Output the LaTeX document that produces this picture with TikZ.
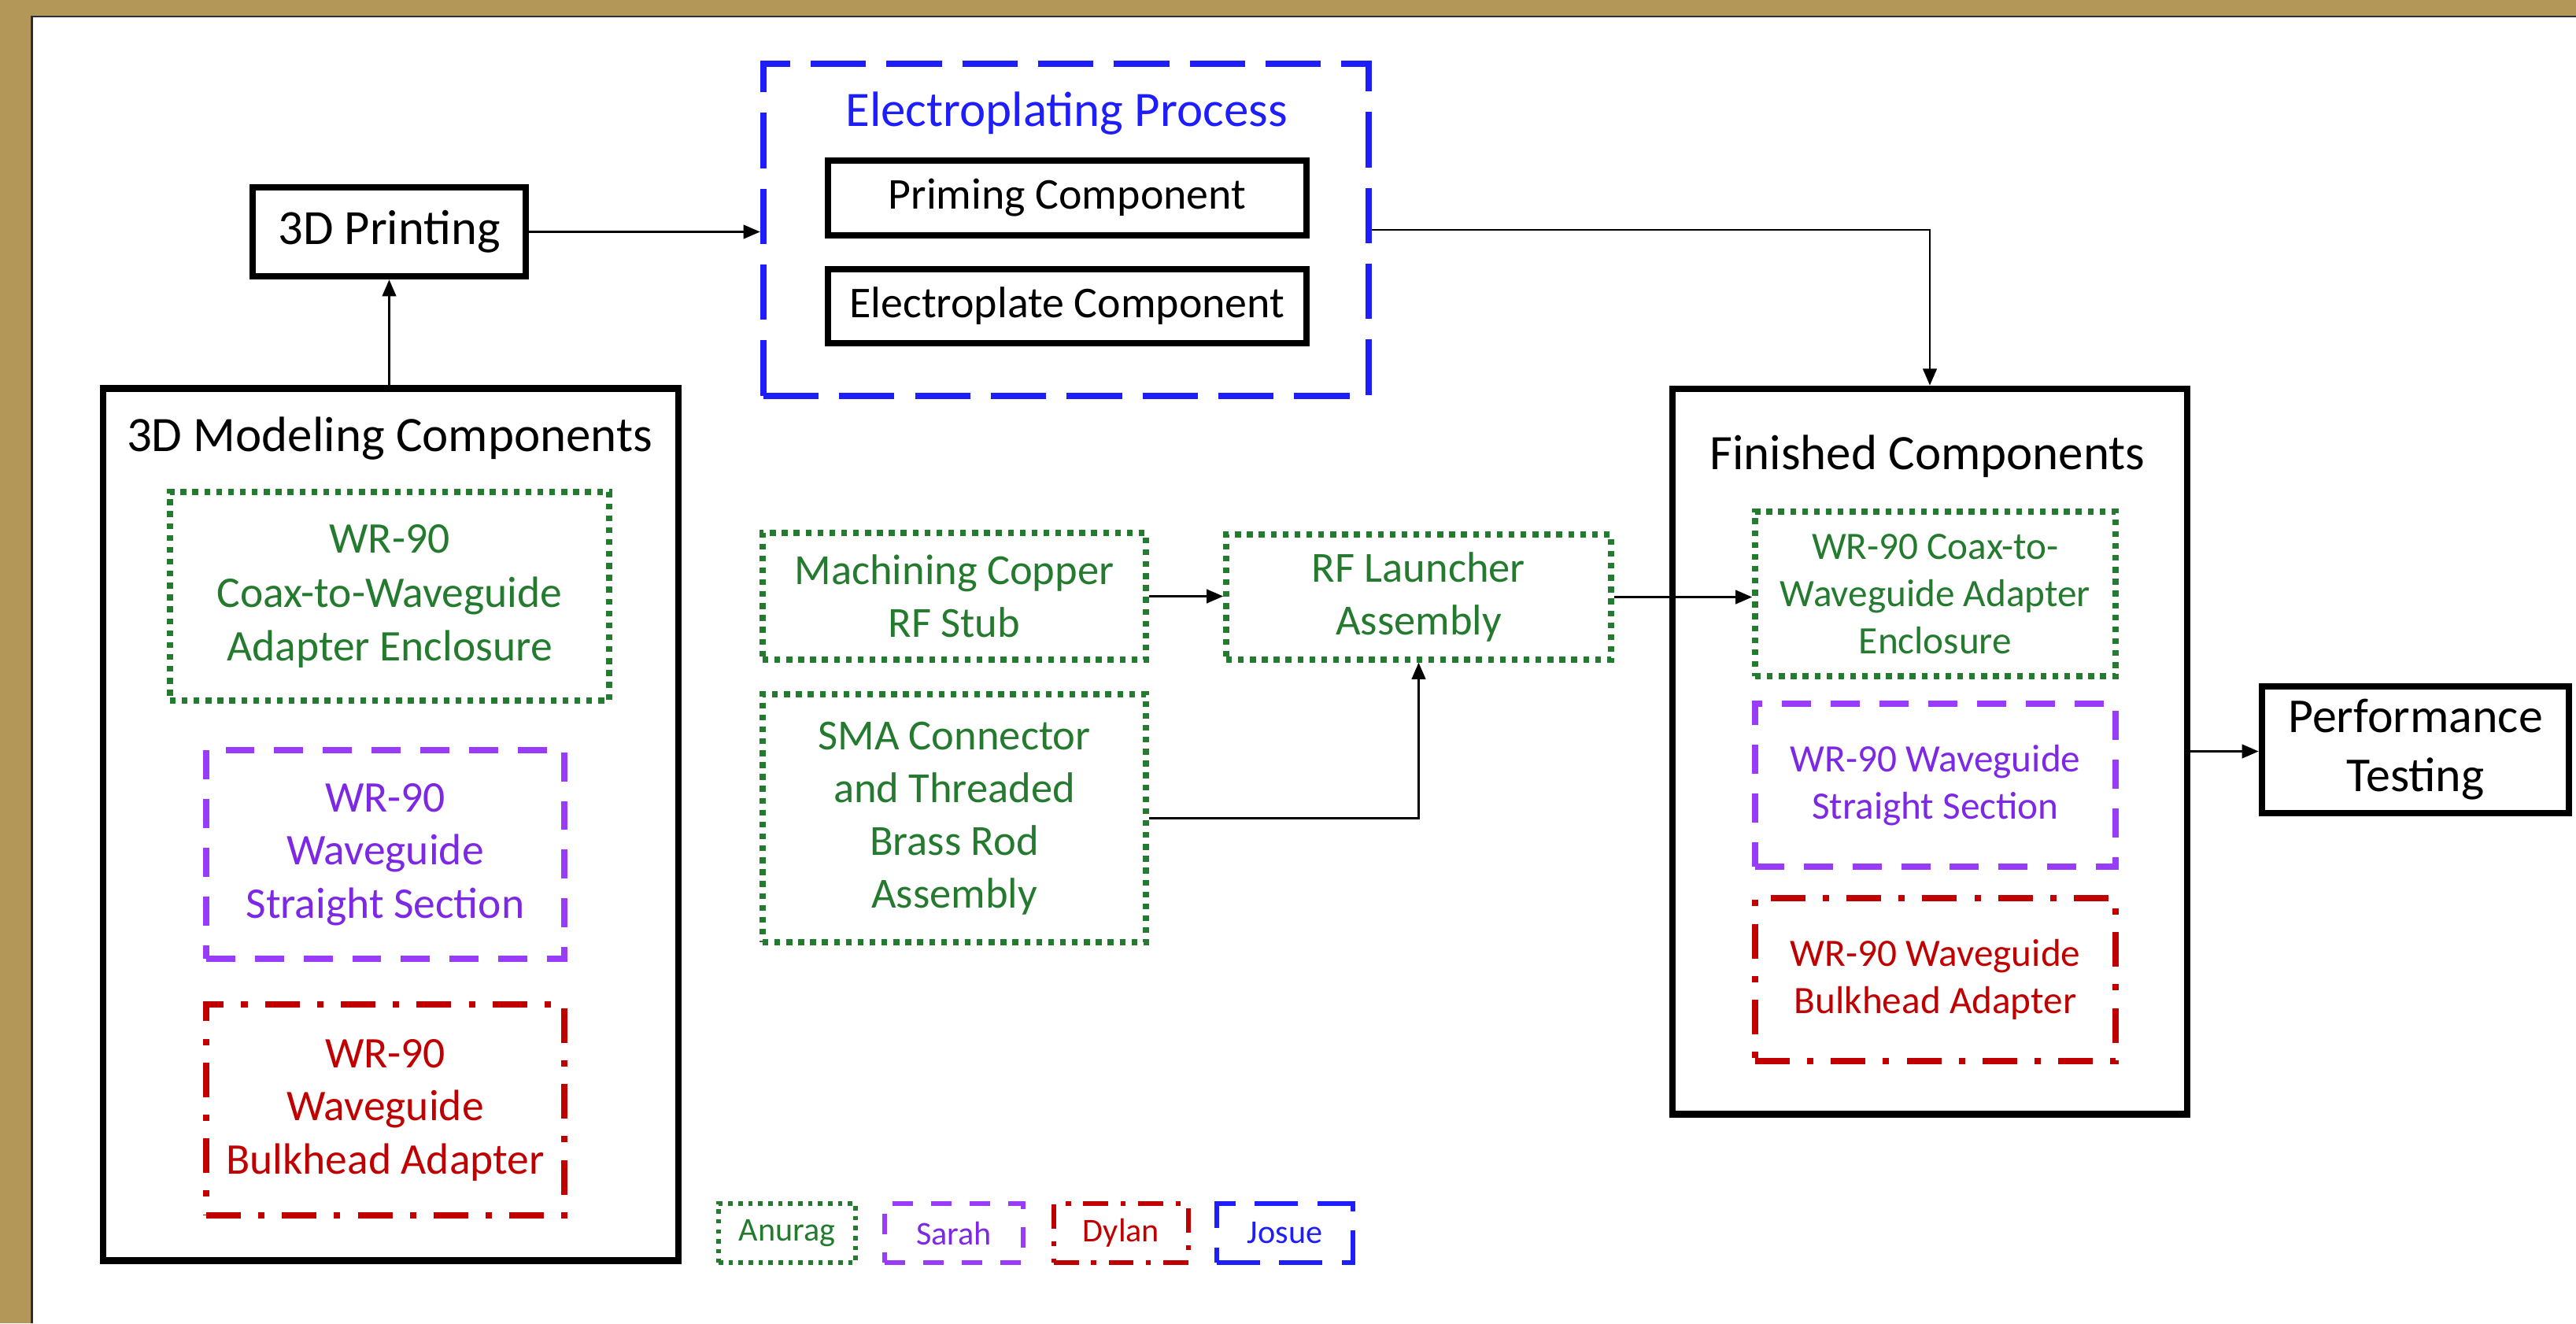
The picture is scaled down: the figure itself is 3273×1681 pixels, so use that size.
\documentclass[tikz,border=0pt]{standalone}
\usepackage{fontspec}
\setmainfont{Carlito}
\usetikzlibrary{arrows.meta}

\definecolor{frameGold}{RGB}{179,151,89}
\definecolor{frameDark}{RGB}{45,45,51}
\definecolor{annGreen}{RGB}{36,122,46}
\definecolor{sarahLine}{RGB}{152,60,250}
\definecolor{sarahText}{RGB}{125,40,228}
\definecolor{dylanRed}{RGB}{192,0,0}
\definecolor{josueBlue}{RGB}{30,30,250}

\tikzset{
  blackbox/.style={draw=black, line width=2.4pt, inner sep=0pt, align=center, text=black},
  anurag/.style={draw=annGreen, text=annGreen, line width=2.1pt,
    dash pattern=on 2.1pt off 2.2pt, inner sep=0pt, align=center},
  sarah/.style={draw=sarahLine, text=sarahText, line width=2.2pt,
    dash pattern=on 10.5pt off 7.1pt, inner sep=0pt, align=center},
  dylan/.style={draw=dylanRed, text=dylanRed, line width=2.2pt,
    dash pattern=on 12.5pt off 6.3pt on 2.3pt off 6.3pt, inner sep=0pt, align=center},
  josue/.style={draw=josueBlue, line width=2.3pt,
    dash pattern=on 20pt off 7.4pt, inner sep=0pt},
  legendA/.style={anurag, line width=1.6pt, dash pattern=on 1.6pt off 2pt},
  legendS/.style={sarah, line width=1.7pt, dash pattern=on 7.4pt off 6.5pt},
  legendD/.style={dylan, line width=1.7pt, dash pattern=on 9pt off 4.5pt on 1.8pt off 4.5pt},
  legendJ/.style={josue, text=josueBlue, line width=1.7pt, dash pattern=on 15.6pt off 7pt},
  titletext/.style={inner sep=0pt, font=\fontsize{17.9}{21.5}\selectfont},
  link/.style={draw=black, line width=0.7pt, -{Triangle[length=6pt,width=5pt]}},
}

\begin{document}
\begin{tikzpicture}[x=0.01cm, y=-0.01cm]
  \useasboundingbox (0,0) rectangle (3273,1681);
  % page and gold frame
  \fill[white] (0,0) rectangle (3273,1681);
  \fill[frameGold] (0,0) rectangle (3273,19.5);
  \fill[frameGold] (0,0) rectangle (39,1681);
  \fill[frameDark] (39,19.5) rectangle (3273,22);
  \fill[frameDark] (39,19.5) rectangle (41.5,1681);

  % 3D printing
  \node[blackbox, minimum width=3.47cm, minimum height=1.13cm,
        font=\fontsize{17.8}{21}\selectfont] (print) at (494.5,294.5) {3D Printing};

  % electroplating group
  \node[josue, minimum width=7.69cm, minimum height=4.22cm] (elec) at (1354.5,292) {};
  \node[titletext, text=josueBlue] (elecTitle) at (1355,144) {Electroplating Process};
  \node[blackbox, minimum width=6.08cm, minimum height=0.95cm,
        font=\fontsize{15.9}{19}\selectfont] (prime) at (1356,251.5) {Priming Component};
  \node[blackbox, minimum width=6.08cm, minimum height=0.94cm,
        font=\fontsize{15.9}{19}\selectfont] (plate) at (1356,389) {Electroplate Component};

  % 3D modeling group
  \node[blackbox, minimum width=7.31cm, minimum height=11.07cm] (model) at (496.5,1047.5) {};
  \node[titletext] (modelTitle) at (495,557) {3D Modeling Components};
  \node[anurag, minimum width=5.58cm, minimum height=2.65cm,
        font=\fontsize{15.8}{19.6}\selectfont] (mCoax) at (495,757.5)
        {WR-90\\Coax-to-Waveguide\\Adapter Enclosure};
  \node[sarah, minimum width=4.55cm, minimum height=2.65cm,
        font=\fontsize{15.8}{19.2}\selectfont] (mStraight) at (489.5,1085.5)
        {WR-90\\Waveguide\\Straight Section};
  \node[dylan, minimum width=4.55cm, minimum height=2.68cm,
        font=\fontsize{15.8}{19.2}\selectfont] (mBulk) at (489.5,1410)
        {WR-90\\Waveguide\\Bulkhead Adapter};

  % RF launcher parts
  \node[anurag, minimum width=4.87cm, minimum height=1.61cm,
        font=\fontsize{15.5}{19}\selectfont] (machine) at (1212.5,757.5)
        {Machining Copper\\RF Stub};
  \node[anurag, minimum width=4.87cm, minimum height=3.15cm,
        font=\fontsize{15.5}{19}\selectfont] (sma) at (1212.5,1039.5)
        {SMA Connector\\and Threaded\\Brass Rod\\Assembly};
  \node[anurag, minimum width=4.89cm, minimum height=1.59cm,
        font=\fontsize{15.5}{19}\selectfont] (rf) at (1802.5,758.5)
        {RF Launcher\\Assembly};

  % finished group
  \node[blackbox, minimum width=6.54cm, minimum height=9.21cm] (fin) at (2452,954.5) {};
  \node[titletext] (finTitle) at (2449,580) {Finished Components};
  \node[anurag, minimum width=4.58cm, minimum height=2.09cm,
        font=\fontsize{14}{17}\selectfont] (fCoax) at (2459,754.5)
        {WR-90 Coax-to-\\Waveguide Adapter\\Enclosure};
  \node[sarah, minimum width=4.58cm, minimum height=2.07cm,
        font=\fontsize{14}{17}\selectfont] (fStraight) at (2459,997.5)
        {WR-90 Waveguide\\Straight Section};
  \node[dylan, minimum width=4.58cm, minimum height=2.07cm,
        font=\fontsize{14}{17}\selectfont] (fBulk) at (2459,1244.5)
        {WR-90 Waveguide\\Bulkhead Adapter};

  % testing
  \node[blackbox, minimum width=3.90cm, minimum height=1.61cm,
        font=\fontsize{17.6}{21.3}\selectfont] (perf) at (3069,952.5)
        {Performance\\Testing};

  % legend
  \node[legendA, minimum width=1.74cm, minimum height=0.75cm,
        font=\fontsize{12}{14}\selectfont] (lA) at (1000,1566.5) {Anurag};
  \node[legendS, minimum width=1.76cm, minimum height=0.75cm,
        font=\fontsize{12}{14}\selectfont] (lS) at (1212,1566.5) {Sarah};
  \node[legendD, minimum width=1.71cm, minimum height=0.75cm,
        font=\fontsize{12}{14}\selectfont] (lD) at (1424.5,1566.5) {Dylan};
  \node[legendJ, minimum width=1.73cm, minimum height=0.75cm,
        font=\fontsize{12}{14}\selectfont] (lJ) at (1632.5,1566.5) {Josue};

  % connectors
  \draw[link] (print.south |- model.north) -- (print.south);
  \draw[link] (print.east) -- (print.east -| elec.west);
  \draw[link] (elec.east) -| (fin.north);
  \draw[link] (machine.east) -- (machine.east -| rf.west);
  \draw[link] (sma.east) -| (rf.south);
  \draw[link] (rf.east) -- (rf.east -| fCoax.west);
  \draw[link] (fin.east) -- (fin.east -| perf.west);
\end{tikzpicture}
\end{document}
